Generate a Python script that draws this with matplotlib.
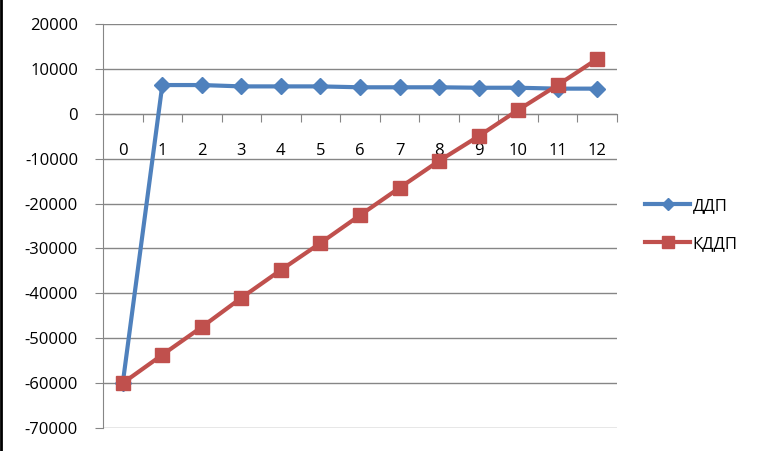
import matplotlib
matplotlib.use("Agg")
import matplotlib.pyplot as plt
from matplotlib.lines import Line2D

categories = [str(i) for i in range(13)]
ddp = [-60000, 6400, 6400, 6100, 6100, 6100, 5900, 5900, 5900, 5800, 5800, 5600, 5600]
kddp = [-60000, -53700, -47500, -41000, -34800, -28800, -22600, -16500, -10500, -5000, 850, 6400, 12200]
y_ticks = [20000, 10000, 0, -10000, -20000, -30000, -40000, -50000, -60000, -70000]
series_names = ["ДДП", "КДДП"]

plt.rcParams['font.family'] = ['Open Sans', 'DejaVu Sans']

fig = plt.figure(figsize=(7.62, 4.51), dpi=100)
ax = fig.add_axes([103/762, 23/451, (617-103)/762, (428-24)/451])

x = list(range(len(categories)))
blue = '#4F81BD'
red = '#C0504D'
grid = '#868686'

ax.plot(x, ddp, color=blue, lw=3, marker='D', markersize=8, label=series_names[0], zorder=3)
ax.plot(x, kddp, color=red, lw=3, marker='s', markersize=10.5, label=series_names[1], zorder=4)

ax.set_xlim(-0.5, 12.5)
ax.set_ylim(-70000, 20000)
ax.set_yticks(y_ticks)
ax.set_yticklabels([str(v) for v in y_ticks])
ax.yaxis.grid(True, color=grid, lw=1)
ax.set_axisbelow(True)

for s in ['top', 'right']:
    ax.spines[s].set_visible(False)
ax.spines['left'].set_color(grid)
ax.spines['bottom'].set_color(grid)
ax.spines['bottom'].set_position(('data', 0))

ax.set_xticks([i + 0.5 for i in range(13)])
ax.set_xticklabels([])
ax.set_xticks(x, minor=True)
ax.set_xticklabels(categories, minor=True)
ax.tick_params(axis='x', which='major', direction='out', length=6, color=grid)
ax.tick_params(axis='x', which='minor', length=0, pad=21, labelsize=12)
ax.tick_params(axis='y', direction='out', length=6, color=grid, pad=12, labelsize=12)

leg = fig.legend(loc='center left', bbox_to_anchor=(630/762, 1 - 225/451), frameon=False,
                 fontsize=12, handlelength=2.7, handletextpad=0.15, labelspacing=1.3)
hs = leg.legend_handles
hs[0].set_markersize(6)
hs[1].set_markersize(9)

fig.add_artist(Line2D([0.0015, 0.0015], [0, 1], lw=2, color='black', transform=fig.transFigure))

fig.savefig('out.png', dpi=100)
